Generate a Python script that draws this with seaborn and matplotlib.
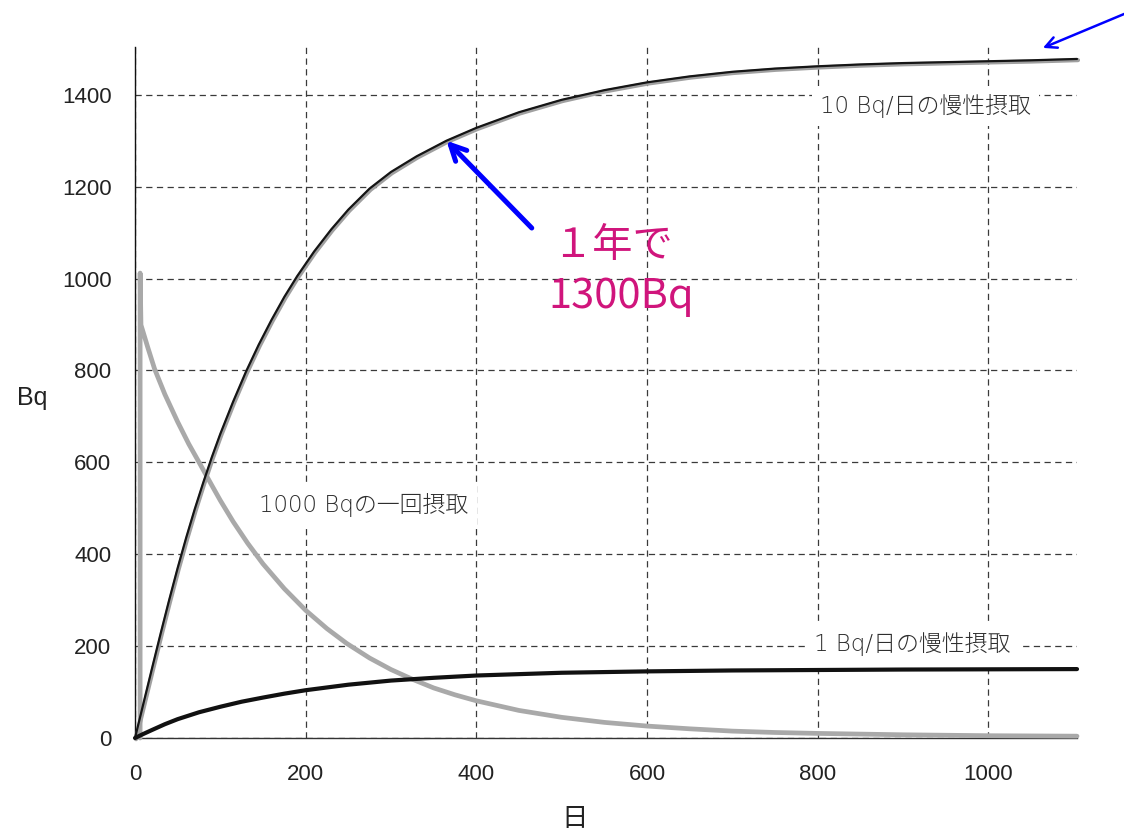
import matplotlib
matplotlib.use("Agg")
import matplotlib.pyplot as plt
import matplotlib.transforms as mtransforms
import pandas as pd
import seaborn as sns

# Body burden (Bq) over time (days)
# 10 Bq per day, chronic intake
days_10 = [0, 10, 20, 30, 40, 50, 60, 70, 80, 90, 100, 115, 130, 145, 160, 175,
           190, 210, 230, 250, 275, 300, 330, 365, 400, 450, 500, 550, 600, 650,
           700, 750, 800, 850, 900, 950, 1000, 1050, 1104]
bq_10 = [0, 76, 152, 227, 300, 370, 436, 498, 556, 611, 662, 732, 797, 856, 910,
         960, 1005, 1059, 1107, 1150, 1196, 1232, 1266, 1300, 1328, 1362, 1389,
         1410, 1427, 1440, 1450, 1457, 1462, 1466, 1469, 1471, 1473, 1475, 1478]

# 1 Bq per day, chronic intake
days_1 = [0, 10, 20, 35, 50, 75, 100, 125, 150, 175, 200, 250, 300, 350, 400,
          500, 600, 700, 800, 900, 1000, 1104]
bq_1 = [0, 9, 17.5, 30, 41, 56, 68, 79, 88, 96.5, 104, 116, 125, 131, 136, 142,
        145, 147, 148, 149, 149.5, 150]

# single intake of 1000 Bq
days_once = [6, 6, 7, 15, 23, 35, 50, 63, 76, 90, 100, 115, 132, 150, 175, 200,
             225, 248, 275, 300, 325, 350, 375, 400, 450, 500, 550, 600, 650,
             700, 750, 800, 900, 1000, 1104]
bq_once = [0, 1012, 899, 850, 803, 748, 688, 640, 597, 550, 517, 471, 424, 379,
           325, 278, 238, 206, 174, 149, 128, 109, 94, 81, 60, 45, 34, 26, 20,
           15, 12, 10, 7, 5, 4]

x_ticks = [0, 200, 400, 600, 800, 1000]
y_ticks = [0, 200, 400, 600, 800, 1000, 1200, 1400]

label_10 = "10 Bq/日の慢性摂取"
label_1 = "1 Bq/日の慢性摂取"
label_once = "1000 Bqの一回摂取"
note_line1 = "１年で"
note_line2 = "1300Bq"

sns.set_style("white")
plt.rcParams["font.family"] = ["Liberation Sans", "Noto Sans CJK JP", "DejaVu Sans"]
plt.rcParams["lines.scale_dashes"] = False

W, H = 1124, 832
fig = plt.figure(figsize=(W / 100, H / 100), dpi=100)
ax = fig.add_axes([135 / W, 1 - 738 / H, (1077 - 135) / W, (738 - 47) / H])


def px_to_data(px, py):
    """Pixel position on the canvas -> data coordinates of the axes."""
    return (px - 135) / 0.853, (738 - py) / 0.4593


df_10 = pd.DataFrame({"day": days_10, "bq": bq_10})
df_1 = pd.DataFrame({"day": days_1, "bq": bq_1})
df_once = pd.DataFrame({"day": days_once, "bq": bq_once})

# single intake (grey, thick)
sns.lineplot(data=df_once, x="day", y="bq", ax=ax, sort=False, estimator=None,
             color="#a9a9a9", linewidth=3.4, zorder=3)

# chronic 10 Bq/day: grey shadow under a thin black line
sns.lineplot(data=df_10, x="day", y="bq", ax=ax, sort=False, estimator=None,
             color="#a0a0a0", linewidth=3.0, zorder=4)
shadow = ax.lines[-1]
shadow.set_transform(mtransforms.offset_copy(ax.transData, fig=fig, x=1.0, y=-1.2,
                                             units="dots"))
sns.lineplot(data=df_10, x="day", y="bq", ax=ax, sort=False, estimator=None,
             color="#151515", linewidth=1.6, zorder=5)

# chronic 1 Bq/day (black, thick)
sns.lineplot(data=df_1, x="day", y="bq", ax=ax, sort=False, estimator=None,
             color="#111111", linewidth=3.0, zorder=5)

for ln in ax.lines:
    ln.set_clip_on(False)
    ln.set_solid_joinstyle("round")

ax.set_xlim(0, 1104)
ax.set_ylim(0, 1504)
ax.set_xticks(x_ticks)
ax.set_yticks(y_ticks)
ax.set_xlabel("")
ax.set_ylabel("")

ax.set_axisbelow(True)
ax.grid(True, linestyle=(0, (4.5, 3.2)), color="#3a3a3a", linewidth=0.9)
ax.tick_params(direction="out", length=7, width=0.9, color="#555555",
               labelsize=16, labelcolor="#222222", pad=10)
ax.tick_params(axis="x", pad=12)

for side in ("top", "right"):
    ax.spines[side].set_visible(False)
ax.spines["left"].set_color("#111111")
ax.spines["left"].set_linewidth(1.0)
ax.spines["bottom"].set_color("#333333")
ax.spines["bottom"].set_linewidth(1.0)

# axis titles
fig.text(32 / W, 1 - 398 / H, "Bq", fontsize=18, color="#222222",
         ha="center", va="center")
fig.text(575 / W, 1 - 818 / H, "日", fontsize=19, color="#222222",
         ha="center", va="center", family=["Noto Sans CJK JP", "DejaVu Sans"])

# curve labels
box = dict(facecolor="white", edgecolor="none", pad=6)
lab_font = ["DejaVu Sans", "Noto Sans CJK JP"]
for (px, py), txt in (((925, 106), label_10), ((912, 644), label_1),
                      ((364, 505), label_once)):
    ax.text(*px_to_data(px, py), txt, fontsize=16.5, color="#2e2e2e",
            ha="center", va="center", family=lab_font, fontweight="light",
            bbox=box, zorder=6)

# one-year note
magenta = "#d0157c"
cjk = ["Noto Sans CJK JP", "DejaVu Sans"]
ax.text(*px_to_data(612, 246), note_line1, fontsize=29, color=magenta,
        ha="center", va="center", family=cjk, zorder=7)
ax.text(*px_to_data(621, 297), note_line2, fontsize=30, color=magenta,
        ha="center", va="center", family=cjk, zorder=7)

# arrows
ax.annotate("", xy=(365, 1300), xytext=(465, 1110),
            arrowprops=dict(arrowstyle="->", color="#0000ff", lw=3.6,
                            mutation_scale=28, shrinkA=0, shrinkB=0),
            zorder=8)
ax.annotate("", xy=(1064, 1502), xytext=(1162, 1578), annotation_clip=False,
            arrowprops=dict(arrowstyle="->", color="#0000ff", lw=1.8,
                            mutation_scale=20, shrinkA=0, shrinkB=0),
            zorder=8)

fig.savefig("out.png", dpi=100)
